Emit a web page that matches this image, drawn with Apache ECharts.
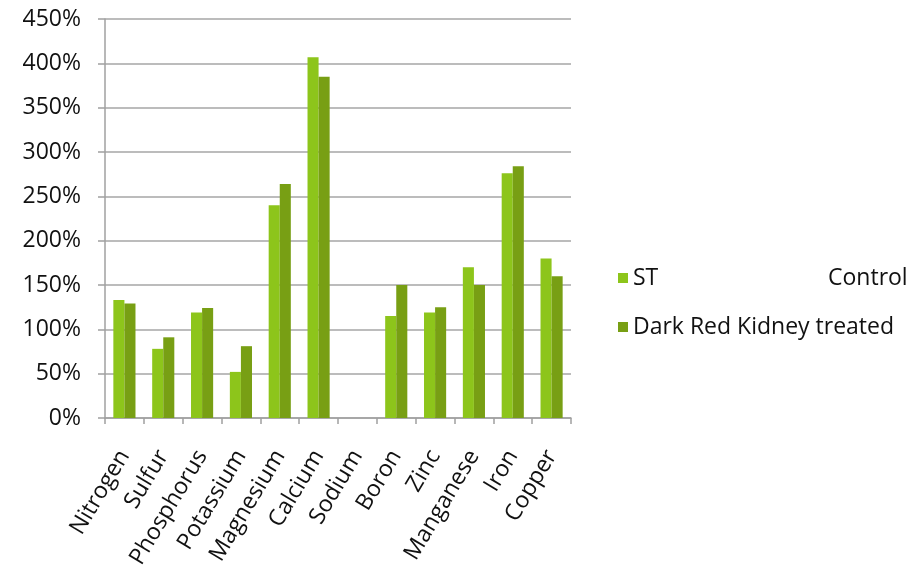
<!DOCTYPE html>
<html>
<head>
<meta charset="utf-8">
<script src="https://cdn.jsdelivr.net/npm/echarts@6/dist/echarts.min.js"></script>
<style>html,body{margin:0;padding:0;background:#fff}#c{width:911px;height:574px}</style>
</head>
<body>
<div id="c"></div>
<script>
var categories = ['Nitrogen','Sulfur','Phosphorus','Potassium','Magnesium','Calcium','Sodium','Boron','Zinc','Manganese','Iron','Copper'];
var stControl = [133, 78, 119, 52, 240, 407, 0, 115, 119, 170, 276, 180];
var darkRedKidney = [129, 91, 124, 81, 264, 385, 0, 150, 125, 150, 284, 160];
var yTicks = [0, 50, 100, 150, 200, 250, 300, 350, 400, 450];
var seriesNames = ['ST Control', 'Dark Red Kidney treated'];

var FONT = '"Open Sans", "Noto Sans", sans-serif';
var chart = echarts.init(document.getElementById('c'));
chart.setOption({
  animation: false,
  grid: {left: 105, right: 340, top: 19, bottom: 156, containLabel: false},
  legend: {
    orient: 'vertical', left: 613, top: 261,
    itemWidth: 10, itemHeight: 10, itemGap: 25,
    icon: 'rect',
    data: seriesNames,
    textStyle: {fontFamily: FONT, fontSize: 23, lineHeight: 24, color: '#111',
      rich: {a: {fontFamily: FONT, fontSize: 23, lineHeight: 24, color: '#111', width: 195}, b: {fontFamily: FONT, fontSize: 23, lineHeight: 24, color: '#111'}}},
    formatter: function (n) {
      if (n === seriesNames[0]) return '{a|ST}{b|Control}';
      return n;
    }
  },
  xAxis: {
    type: 'category', data: categories,
    axisLine: {lineStyle: {color: '#a0a0a0', width: 1.5}},
    axisTick: {show: true, alignWithLabel: false, length: 6, lineStyle: {color: '#a0a0a0', width: 1.5}},
    axisLabel: {rotate: 59, margin: 34, fontFamily: FONT, fontSize: 23, color: '#111', interval: 0}
  },
  yAxis: {
    type: 'value', min: 0, max: 450, interval: 50,
    axisLine: {show: true, lineStyle: {color: '#a0a0a0', width: 1.5}},
    axisTick: {show: true, length: 7, lineStyle: {color: '#a0a0a0', width: 1.5}},
    splitLine: {lineStyle: {color: '#a6a6a6', width: 1.5}},
    axisLabel: {margin: 24, fontFamily: FONT, fontSize: 23, color: '#111',
      formatter: function (v) { return yTicks.indexOf(v) >= 0 ? v + '%' : ''; }}
  },
  series: [
    {name: seriesNames[0], type: 'bar', data: stControl, barGap: '0%', barCategoryGap: '43%',
     itemStyle: {color: '#8dc51b'}},
    {name: seriesNames[1], type: 'bar', data: darkRedKidney, barGap: '0%', barCategoryGap: '43%',
     itemStyle: {color: '#789f14'}}
  ]
});
</script>
</body>
</html>
